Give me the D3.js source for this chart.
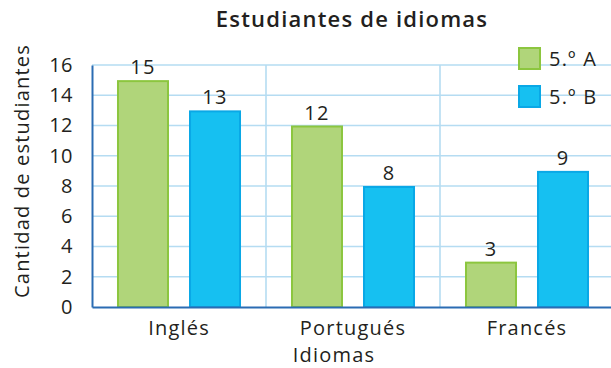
<!DOCTYPE html>
<html>
<head>
<meta charset="utf-8">
<script src="https://cdn.jsdelivr.net/npm/d3@7"></script>
<style>
  html, body { margin: 0; padding: 0; background: #fff; }
  svg { display: block; }
  text { font-family: "Open Sans", "Noto Sans", sans-serif; fill: #231f20; }
</style>
</head>
<body>
<svg id="chart" width="611" height="368"></svg>
<script>
// Languages studied by each 5th-grade group
const categories = ["Inglés", "Portugués", "Francés"];
const series = ["5.º A", "5.º B"];
const valuesA = [15, 12, 3];
const valuesB = [13, 8, 9];
const yTicks = [0, 2, 4, 6, 8, 10, 12, 14, 16];

const colors = {
  "5.º A": { fill: "#b0d57a", stroke: "#8cc63f" },
  "5.º B": { fill: "#16c0f1", stroke: "#0aa8e6" }
};
const FONT = "'Open Sans', 'Noto Sans', sans-serif";
const FS = 20, LS = 1.2;

const svg = d3.select("#chart");
const plotLeft = 92, plotRight = 614, plotTop = 65, plotBottom = 307;

const x0 = d3.scaleBand().domain(categories).range([plotLeft, plotRight]);
const x1 = d3.scaleBand().domain(series).range([0, x0.bandwidth()])
  .paddingInner(0.278).paddingOuter(0.347);
const y = d3.scaleLinear().domain([0, 16]).range([plotBottom, plotTop]);

// Grid: horizontal lines at each tick, vertical lines between categories
const grid = svg.append("g");
grid.selectAll("line.h").data(yTicks.filter(d => d > 0)).join("line")
  .attr("class", "h")
  .attr("x1", plotLeft).attr("x2", 611)
  .attr("y1", d => y(d)).attr("y2", d => y(d))
  .attr("stroke", "#b5dcf2").attr("stroke-width", 1.6);
grid.selectAll("line.v").data(categories.slice(1)).join("line")
  .attr("class", "v")
  .attr("x1", d => x0(d)).attr("x2", d => x0(d))
  .attr("y1", plotTop).attr("y2", plotBottom)
  .attr("stroke", "#b5dcf2").attr("stroke-width", 1.6);

// Bars
const rows = categories.map((c, i) => ({ cat: c, vals: [
  { s: series[0], v: valuesA[i] }, { s: series[1], v: valuesB[i] }] }));

const groups = svg.append("g").selectAll("g").data(rows).join("g")
  .attr("transform", d => `translate(${x0(d.cat)},0)`);

groups.selectAll("rect").data(d => d.vals).join("rect")
  .attr("x", d => x1(d.s) + 1)
  .attr("width", x1.bandwidth() - 2)
  .attr("y", d => y(d.v) + 1)
  .attr("height", d => y(0) - y(d.v) - 1)
  .attr("fill", d => colors[d.s].fill)
  .attr("stroke", d => colors[d.s].stroke)
  .attr("stroke-width", 2);

groups.selectAll("text").data(d => d.vals).join("text")
  .attr("x", d => x1(d.s) + x1.bandwidth() / 2)
  .attr("y", d => y(d.v) - 6)
  .attr("text-anchor", "middle")
  .attr("font-size", FS).attr("letter-spacing", LS)
  .text(d => d.v);

// Axes
const yAxis = svg.append("g").attr("transform", `translate(${plotLeft},0)`)
  .call(d3.axisLeft(y).tickValues(yTicks).tickSize(0).tickPadding(19));
yAxis.select(".domain").attr("stroke", "#2b6cb3").attr("stroke-width", 2);
yAxis.selectAll("text").attr("font-size", FS).attr("letter-spacing", 0.5)
  .attr("font-family", FONT).attr("fill", "#231f20");

const xAxis = svg.append("g").attr("transform", `translate(0,${plotBottom})`)
  .call(d3.axisBottom(x0).tickSize(0).tickPadding(14));
xAxis.select(".domain").attr("stroke", "#2b6cb3").attr("stroke-width", 2);
xAxis.selectAll("text").attr("font-size", FS).attr("letter-spacing", LS)
  .attr("font-family", FONT).attr("fill", "#231f20");

// Titles
svg.append("text").attr("x", 352).attr("y", 27)
  .attr("text-anchor", "middle").attr("font-size", 22).attr("font-weight", 600)
  .attr("letter-spacing", 1.2)
  .text("Estudiantes de idiomas");

svg.append("text").attr("x", 334).attr("y", 362)
  .attr("text-anchor", "middle").attr("font-size", FS).attr("letter-spacing", LS)
  .text("Idiomas");

svg.append("text")
  .attr("transform", "translate(29,171) rotate(-90)")
  .attr("text-anchor", "middle").attr("font-size", FS).attr("letter-spacing", LS)
  .text("Cantidad de estudiantes");

// Legend
const legend = svg.append("g").selectAll("g").data(series).join("g")
  .attr("transform", (d, i) => `translate(519,${48 + i * 38})`);
legend.append("rect").attr("width", 21).attr("height", 21)
  .attr("fill", d => colors[d].fill).attr("stroke", d => colors[d].stroke)
  .attr("stroke-width", 2);
legend.append("text").attr("x", 30).attr("y", 18)
  .attr("font-size", FS).attr("letter-spacing", LS).text(d => d);
</script>
</body>
</html>
